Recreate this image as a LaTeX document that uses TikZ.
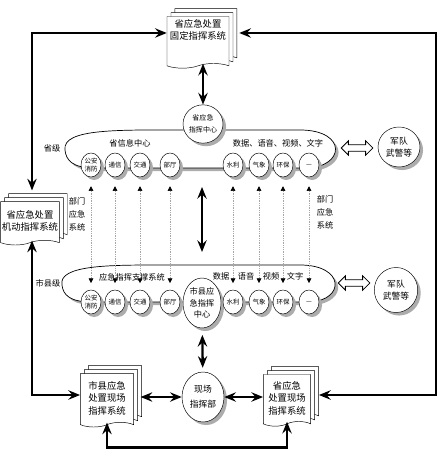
\documentclass[tikz,border=0pt]{standalone}
\usepackage{fontspec}
\setmainfont{Noto Sans CJK SC}
\usetikzlibrary{arrows.meta,shapes.geometric,shapes.symbols,shapes.arrows,shadows}
\begin{document}
\begin{tikzpicture}[x=0.03cm,y=-0.03cm,
    arr/.style={line width=2pt,-{Stealth[length=10pt,width=8pt,inset=3.5pt]}},
    darr/.style={line width=2pt,{Stealth[length=10pt,width=8pt,inset=3.5pt]}-{Stealth[length=10pt,width=8pt,inset=3.5pt]}},
    link/.style={densely dotted,gray!70,line width=0.5pt,{Triangle[color=black,length=4pt,width=4pt]}-{Triangle[color=black,length=4pt,width=4pt]}},
    doc/.style={tape,tape bend top=none,tape bend height=4pt,draw,fill=white,align=center,inner sep=1pt,
      font=\fontsize{8}{10.6}\selectfont,
      copy shadow={shadow xshift=6.8pt,shadow yshift=6.8pt,fill=white,draw=black},
      copy shadow={shadow xshift=3.4pt,shadow yshift=3.4pt,fill=white,draw=black}},
    shade/.style={drop shadow={shadow xshift=2.6pt,shadow yshift=-2.6pt,opacity=1,fill=gray!65}},
    unit/.style={ellipse,draw,fill=white,shade,inner sep=0pt,minimum width=0.6cm,minimum height=0.72cm,
      align=center,font=\fontsize{5.5}{6.5}\selectfont},
    hub/.style={ellipse,draw,fill=white,shade,inner sep=0pt,align=center},
    cloud/.style={draw,fill=white,line width=0.6pt,shade},
    lbl/.style={inner sep=0pt,align=center,font=\fontsize{7}{11}\selectfont},
    hollow/.style={double arrow,draw,fill=white,line width=0.7pt,inner sep=2.4pt,minimum height=0.95cm,
      double arrow head extend=3.4pt}]
  \useasboundingbox (0,0) rectangle (440,460);

  % clouds
  \draw[cloud] (65,150) .. controls (62,128) and (120,130) .. (190,130) -- (300,130)
    .. controls (348,130) and (345,168) .. (305,168) -- (95,168)
    .. controls (72,168) and (66,160) .. (65,150) -- cycle;
  \draw[cloud] (62,285) .. controls (58,265) and (110,265) .. (160,265) -- (300,265)
    .. controls (345,265) and (345,300) .. (310,302) -- (92,302)
    .. controls (70,302) and (63,295) .. (62,285) -- cycle;

  \node[lbl] (plev) at (52,148) {省级};
  \node[lbl] (pinfo) at (130,143) {省信息中心};
  \node[lbl] (pdata) at (278,143) {数据、语音、视频、文字};
  \node[lbl] (clev) at (48,283) {市县级};
  \node[lbl] (csup) at (132,277) {应急指挥支撑系统};
  \foreach \x/\t [count=\i] in {221/数据,246/语音,271/视频,295/文字}
    \node[lbl] (cdata\i) at (\x,276) {\t};
  \node[lbl] (dept1) at (77,214) {部门\\应急\\系统};
  \node[lbl] (dept2) at (325,212) {部门\\应急\\系统};

  % hubs
  \node[hub,minimum width=1.2cm,minimum height=1.15cm,font=\fontsize{6}{10}\selectfont] (pctr) at (203,124) {省应急\\指挥中心};
  \node[hub,minimum width=1.14cm,minimum height=1.5cm,font=\fontsize{7}{9.8}\selectfont] (cctr) at (202,303) {市县应\\急指挥\\中心};
  \node[hub,minimum width=1.26cm,minimum height=1.5cm,font=\fontsize{7.5}{13}\selectfont] (site) at (203,397) {现场\\指挥部};
  \node[hub,minimum width=1.26cm,minimum height=1.2cm,font=\fontsize{7.5}{10}\selectfont] (army1) at (399,147) {军队\\武警等};
  \node[hub,minimum width=1.3cm,minimum height=1.35cm,font=\fontsize{7.5}{10}\selectfont] (army2) at (396,290) {军队\\武警等};
  \node[hollow] (link1) at (357,148) {};
  \node[hollow] (link2) at (354,283) {};

  % units
  \foreach \n/\x/\t in {a/91/{公安\\消防},b/115/通信,c/140/交通,d/170/部厅,e/233/水利,f/259/气象,g/283/环保,h/309/—}{
    \node[unit] (up\n) at (\x,165) {\t};
    \node[unit] (lo\n) at (\x,302) {\t};
    \draw[link,shorten <=0.27cm,shorten >=0.2cm] (up\n) -- (lo\n);
  }

  % documents
  \node[doc,minimum width=1.86cm,minimum height=1.55cm] (fixdoc) at (198,40) {省应急处置\\固定指挥系统\\[7pt]\mbox{}};
  \node[doc,minimum width=1.62cm,minimum height=1.3cm] (movdoc) at (30,221) {省应急处置\\机动指挥系统};
  \node[doc,minimum width=1.6cm,minimum height=1.6cm] (cntdoc) at (107,398) {市县应急\\处置现场\\指挥系统};
  \node[doc,minimum width=1.42cm,minimum height=1.55cm] (prvdoc) at (287,398) {省应急\\处置现场\\指挥系统};

  % connectors
  \coordinate (tl) at (32,33);
  \coordinate (tr) at (436,33);
  \coordinate (bl) at (32,395);
  \coordinate (br) at (436,395);
  \coordinate (mu) at (202,187);
  \coordinate (ml) at (202,252);
  \draw[darr,shorten <=0.33cm] (tl |- movdoc.north) -- (tl) -- (tl -| fixdoc.west);
  \draw[darr] (bl |- movdoc.south) -- (bl) -- (bl -| cntdoc.west);
  \draw[darr,shorten <=0.3cm,shorten >=0.24cm] (tr -| fixdoc.east) -- (tr) -- (br) -- (br -| prvdoc.east);
  \draw[darr] (fixdoc.south -| pctr) -- (pctr);
  \draw[darr] (mu) -- (ml);
  \draw[darr,shorten <=0.2cm,shorten >=0.12cm] (cctr) -- (site);
  \draw[darr,shorten <=0.2cm] (cntdoc.east |- site) -- (site);
  \draw[darr] (site) -- (site -| prvdoc.west);
  \draw[darr] (cntdoc.south) -- ++(0,25) -| (prvdoc.south);
\end{tikzpicture}
\end{document}
